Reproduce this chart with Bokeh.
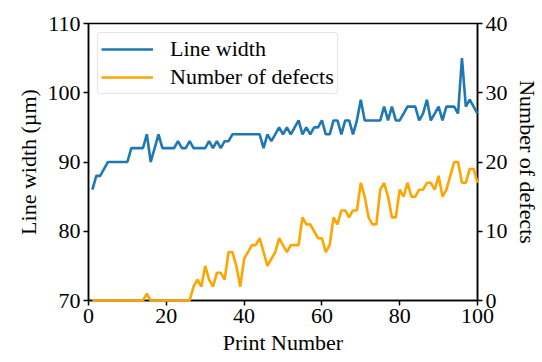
from bokeh.plotting import figure
from bokeh.models import Range1d, LinearAxis, Legend, LegendItem, FixedTicker
from bokeh.embed import file_html
from bokeh.resources import INLINE

print_number = list(range(1, 101))
line_width = [86, 88, 88, 89, 90, 90, 90, 90, 90, 90,
              92, 92, 92, 92, 94, 90, 92, 94, 92, 92,
              92, 92, 93, 92, 92, 93, 92, 92, 92, 92,
              93, 92, 93, 92, 93, 93, 94, 94, 94, 94,
              94, 94, 94, 94, 92, 94, 93, 94, 95, 94,
              95, 94, 95, 96, 94, 95, 94, 95, 95, 96,
              94, 94, 96, 96, 94, 96, 96, 94, 96, 99,
              96, 96, 96, 96, 96, 98, 96, 98, 96, 96,
              97, 98, 98, 98, 96, 97, 99, 96, 97, 98,
              96, 98, 98, 98, 97, 105, 98, 99, 98, 97]
defects = [0, 0, 0, 0, 0, 0, 0, 0, 0, 0,
           0, 0, 0, 0, 1, 0, 0, 0, 0, 0,
           0, 0, 0, 0, 0, 0, 2, 3, 2, 5,
           3, 2, 4, 4, 3, 7, 7, 5, 2, 6,
           7, 8, 8, 9, 7, 5, 6, 7, 9, 8,
           7, 8, 8, 8, 12, 11, 11, 10, 9, 9,
           7, 8, 12, 11, 13, 13, 12, 13, 13, 17,
           15, 12, 11, 11, 16, 17, 15, 12, 12, 16,
           15, 17, 15, 15, 16, 16, 17, 17, 16, 18,
           15, 16, 18, 20, 20, 17, 17, 19, 19, 17]

left_ticks = [70, 80, 90, 100, 110]
right_ticks = [0, 10, 20, 30, 40]
x_ticks = [0, 20, 40, 60, 80, 100]

FONT = "Liberation Serif"
FS = "22px"

p = figure(width=542, height=362, output_backend="svg", toolbar_location=None,
           x_range=Range1d(0, 100), y_range=Range1d(70, 110),
           min_border_left=88, min_border_right=63, min_border_top=23, min_border_bottom=62)
p.extra_y_ranges = {"def": Range1d(0, 40)}

p.grid.visible = False
p.outline_line_color = "black"
p.outline_line_width = 1.5
p.background_fill_color = "white"
p.border_fill_color = "white"

r1 = p.line(print_number, line_width, line_color="#1f77b4", line_width=2.6, level="overlay")
r2 = p.line(print_number, defects, line_color="#FFA500", line_width=2.6,
            y_range_name="def", level="overlay")

raxis = LinearAxis(y_range_name="def", axis_label="Number of defects")
p.add_layout(raxis, "right")

p.xaxis.axis_label = "Print Number"
p.yaxis[0].axis_label = "Line width (\u00b5m)"
p.xaxis.ticker = FixedTicker(ticks=x_ticks)
p.yaxis[0].ticker = FixedTicker(ticks=left_ticks)
raxis.ticker = FixedTicker(ticks=right_ticks)

for ax in p.axis:
    ax.axis_line_color = "black"
    ax.axis_line_width = 1.5
    ax.major_tick_line_color = "black"
    ax.major_tick_line_width = 1.5
    ax.major_tick_in = 0
    ax.major_tick_out = 5
    ax.minor_tick_line_color = None
    ax.major_label_text_font = FONT
    ax.major_label_text_font_size = FS
    ax.major_label_text_color = "black"
    ax.axis_label_text_font = FONT
    ax.axis_label_text_font_size = FS
    ax.axis_label_text_font_style = "normal"
    ax.axis_label_text_color = "black"
    ax.major_label_standoff = 3
    ax.axis_label_standoff = 4

legend = Legend(items=[LegendItem(label="Line width", renderers=[r1]),
                       LegendItem(label="Number of defects", renderers=[r2])],
                location="top_left")
legend.margin = 9
legend.padding = 3
legend.spacing = 2
legend.glyph_width = 52
legend.glyph_height = 24
legend.label_height = 24
legend.label_standoff = 17
legend.label_text_font = FONT
legend.label_text_font_size = FS
legend.label_text_color = "black"
legend.border_line_color = "#cccccc"
legend.border_line_width = 1.5
legend.border_radius = 4
legend.background_fill_alpha = 0.8
p.add_layout(legend)

open("out.html", "w").write(file_html(p, INLINE))
